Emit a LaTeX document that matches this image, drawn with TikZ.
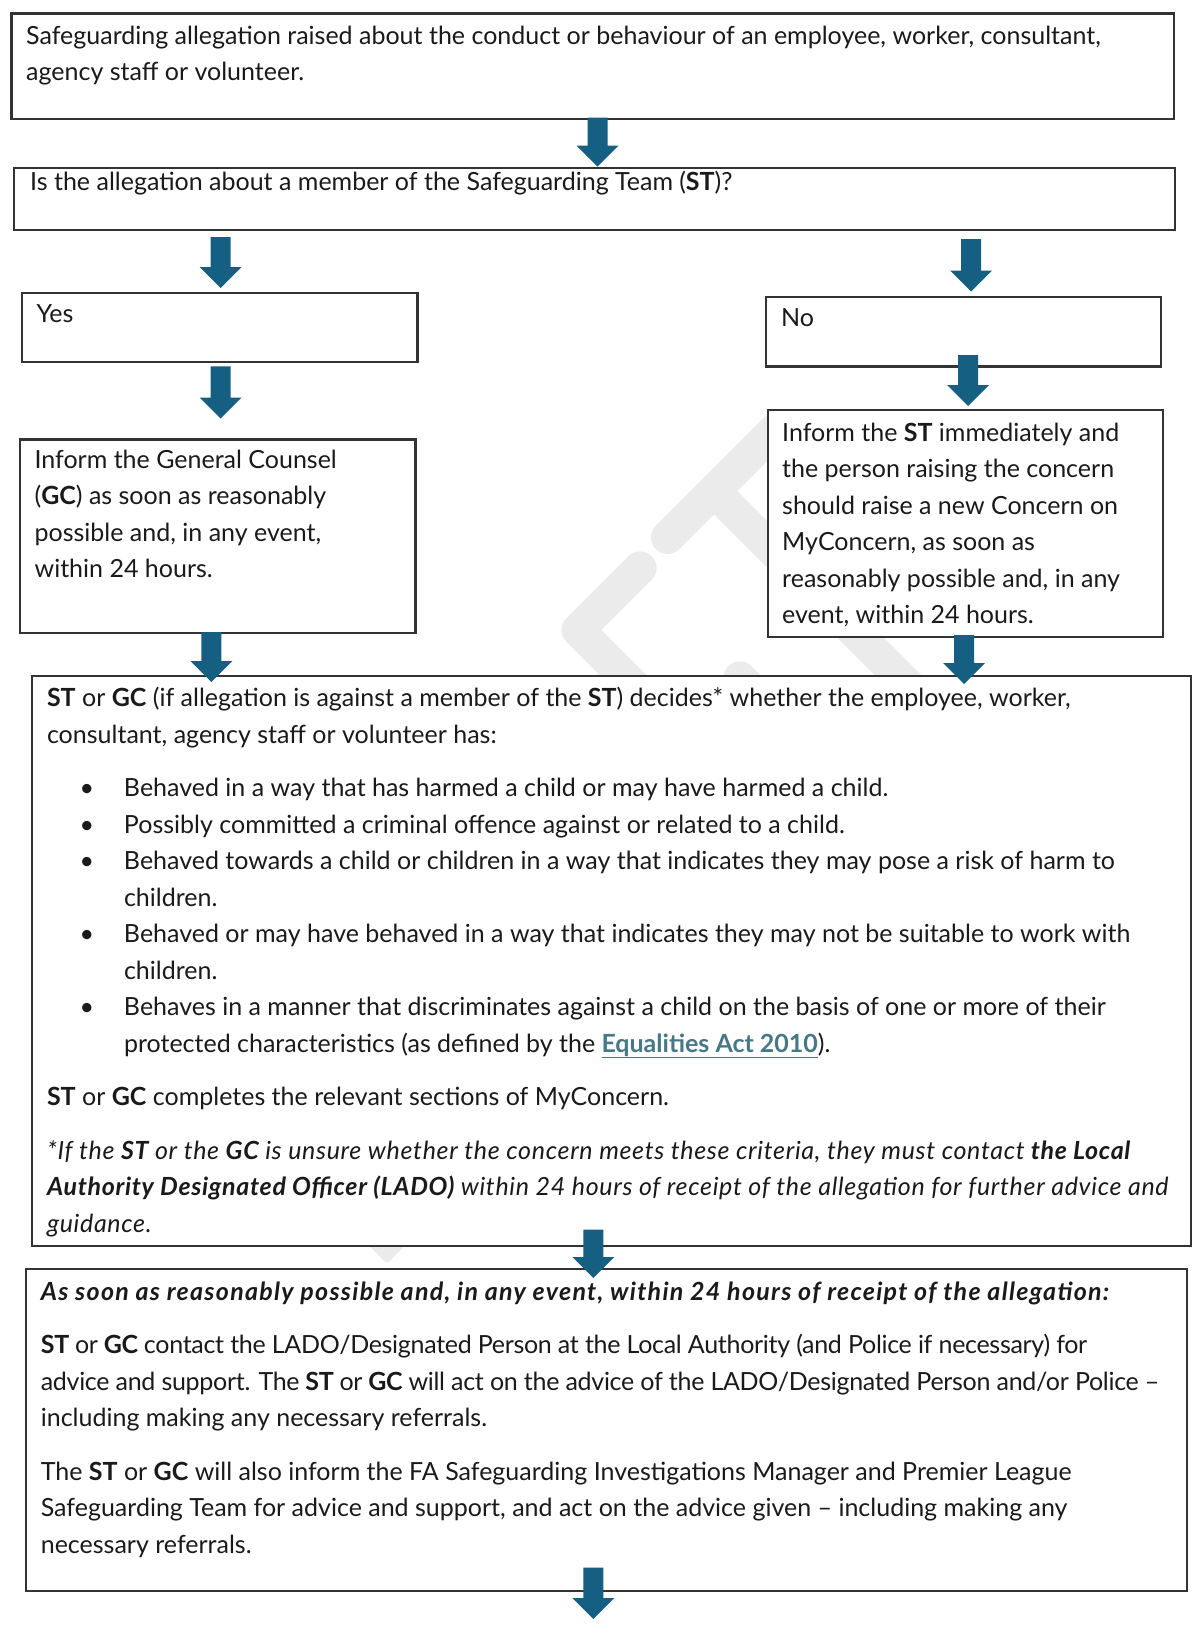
\documentclass[tikz,border=0pt]{standalone}
\usepackage{fontspec}
\setmainfont{Lato}
\usetikzlibrary{calc}
\definecolor{arrowc}{HTML}{156082}
\definecolor{linkc}{HTML}{467886}
\definecolor{wmc}{HTML}{EBEBEB}
\definecolor{linec}{HTML}{333333}
\definecolor{txtc}{HTML}{1A1A1A}
\newcommand\blkarrow[2]{%
  \fill[arrowc] let \p1=(#1), \p2=(#2) in
  (\x1-10pt,\y1) -- (\x1+10pt,\y1) -- (\x1+10pt,\y2+21pt) -- (\x1+21pt,\y2+21pt)
  -- (\x1,\y2) -- (\x1-21pt,\y2+21pt) -- (\x1-10pt,\y2+21pt) -- cycle;}
\newcommand\bul{\hspace*{77pt}\llap{\textbullet\hspace{30pt}}}
\newcommand\ind{\hspace*{77pt}}
\newcommand\lnk[1]{\textcolor{linkc}{\textbf{\underline{#1}}}}
\newcommand\itl[1]{{\addfontfeatures{LetterSpace=2.7}\itshape #1}}
\newcommand\bitl[1]{{\addfontfeatures{LetterSpace=5.1}\bfseries\itshape #1}}
\newcommand\tgt[1]{{\addfontfeatures{LetterSpace=-1.2}#1}}
\begin{document}
\begin{tikzpicture}[x=1pt,y=-1pt,
  box/.style={draw=linec, line width=2.2pt, fill=white, rectangle, inner sep=0pt, anchor=north west},
  txt/.style={anchor=base west, inner sep=0pt, text=txtc, font=\fontsize{25}{36.5}\selectfont},
  wm/.style={draw=wmc, line width=33pt, line cap=round, line join=round}]
\useasboundingbox (0,0) rectangle (1192,1632);
\fill[white] (0,0) rectangle (1192,1632);
% watermark
\draw[wm] (640,568) -- (578,630) -- (720,772);
\draw[wm] (667.5,537.5) -- (775,430);
\draw[wm] (714,491) -- (950,727);
\draw[wm] (740,678) -- (800,738);
\fill[wmc, rounded corners=4pt] (360,1236) -- (414,1236) -- (387,1264) -- cycle;
% boxes
\node[box, minimum width=1162.8pt, minimum height=105.1pt] (b1) at (10.4,12.5) {};
\node[box, minimum width=1161.7pt, minimum height=62.4pt] (b2) at (12.5,166.6) {};
\node[box, minimum width=395.6pt, minimum height=69.7pt] (yes) at (20.8,291.5) {};
\node[box, minimum width=394.7pt, minimum height=69.8pt] (no) at (765,295.6) {};
\node[box, minimum width=395.6pt, minimum height=193.7pt] (gc) at (18.7,438.3) {};
\node[box, minimum width=394.8pt, minimum height=227pt] (inf) at (767,409) {};
\node[box, minimum width=1158.8pt, minimum height=570.4pt] (big) at (31.2,674.6) {};
\node[box, minimum width=1160.7pt, minimum height=321.6pt] (last) at (25,1268) {};
% texts
\node[txt] (t1) at (26,44.5) {\parbox[t]{1200pt}{\raggedright
Safeguarding allegation raised about the conduct or behaviour of an employee, worker, consultant,\\
agency staff or volunteer.}};
\node[txt] (t2) at (30,191) {Is the allegation about a member of the Safeguarding Team (\textbf{ST})?};
\node[txt] (tyes) at (36.4,322.5) {Yes};
\node[txt] (tno) at (781,326.5) {No};
\node[txt] (tgc) at (34.4,468) {\parbox[t]{400pt}{\raggedright
Inform the General Counsel\\
(\textbf{GC}) as soon as reasonably\\
possible and, in any event,\\
within 24 hours.}};
\node[txt] (tinf) at (782,441) {\parbox[t]{400pt}{\raggedright
Inform the \textbf{ST} immediately and\\
the person raising the concern\\
should raise a new Concern on\\
MyConcern, as soon as\\
reasonably possible and, in any\\
event, within 24 hours.}};
\node[txt] (tbig) at (46.8,706.5) {\parbox[t]{1200pt}{\raggedright
\textbf{ST} or \textbf{GC} (if allegation is against a member of the \textbf{ST}) decides* whether the employee, worker,\\
consultant, agency staff or volunteer has:\\[17pt]
\bul Behaved in a way that has harmed a child or may have harmed a child.\\
\bul Possibly committed a criminal offence against or related to a child.\\
\bul Behaved towards a child or children in a way that indicates they may pose a risk of harm to\\
\ind children.\\
\bul Behaved or may have behaved in a way that indicates they may not be suitable to work with\\
\ind children.\\
\bul Behaves in a manner that discriminates against a child on the basis of one or more of their\\
\ind protected characteristics (as defined by the \lnk{Equalities Act 2010}).\\[17pt]
\textbf{ST} or \textbf{GC} completes the relevant sections of MyConcern.\\[17pt]
\itl{*If the \textbf{ST} or the \textbf{GC} is unsure whether the concern meets these criteria, they must contact \textbf{the Local}}\\
\itl{\textbf{Authority Designated Officer (LADO)} within 24 hours of receipt of the allegation for further advice and}\\
\itl{guidance.}}};
\node[txt] (tlast) at (40.6,1300) {\parbox[t]{1200pt}{\raggedright
\bitl{As soon as reasonably possible and, in any event, within 24 hours of receipt of the allegation:}\\[17pt]
\tgt{\textbf{ST} or \textbf{GC} contact the LADO/Designated Person at the Local Authority (and Police if necessary) for}\\
\tgt{advice and support. The \textbf{ST} or \textbf{GC} will act on the advice of the LADO/Designated Person and/or Police –}\\
including making any necessary referrals.\\[17pt]
The \textbf{ST} or \textbf{GC} will also inform the FA Safeguarding Investigations Manager and Premier League\\
Safeguarding Team for advice and support, and act on the advice given – including making any\\
necessary referrals.}};
% arrow end points
\coordinate (a1s) at (597.5,117.6); \coordinate (a1e) at (597.5,166.6);
\coordinate (a2s) at (220.7,237);   \coordinate (a2e) at (220.7,288);
\coordinate (a3s) at (971,239);     \coordinate (a3e) at (971,291.5);
\coordinate (a4s) at (220.7,366.4); \coordinate (a4e) at (220.7,418.5);
\coordinate (a5s) at (968,355);     \coordinate (a5e) at (968,406);
\coordinate (a6s) at (211.3,632);   \coordinate (a6e) at (211.3,682);
\coordinate (a7s) at (964,635);     \coordinate (a7e) at (964,684);
\coordinate (a8s) at (593.4,1229.5);\coordinate (a8e) at (593.4,1278);
\coordinate (a9s) at (593.4,1567.7);\coordinate (a9e) at (593.4,1619);
\blkarrow{a1s}{a1e}
\blkarrow{a2s}{a2e}
\blkarrow{a3s}{a3e}
\blkarrow{a4s}{a4e}
\blkarrow{a5s}{a5e}
\blkarrow{a6s}{a6e}
\blkarrow{a7s}{a7e}
\blkarrow{a8s}{a8e}
\blkarrow{a9s}{a9e}
\end{tikzpicture}
\end{document}
